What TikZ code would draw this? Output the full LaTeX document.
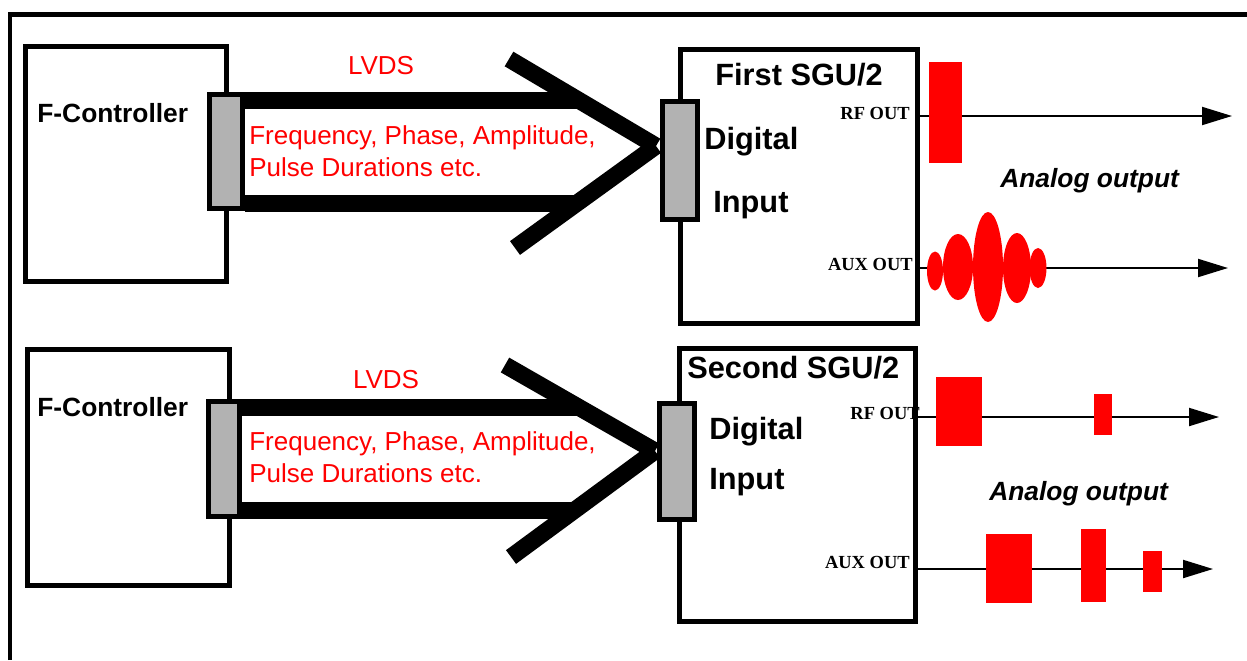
\documentclass[tikz,border=0pt]{standalone}
\usepackage{fontspec}
\setmainfont{Liberation Serif}
\setsansfont{Liberation Sans}
\usetikzlibrary{arrows.meta,positioning}
\tikzset{
  unit/.style={draw,line width=0.1cm,inner sep=0pt},
  port/.style={draw,line width=0.1cm,fill=black!30,inner sep=0pt},
  bus/.style={line width=0.34cm},
  sig/.style={line width=0.04cm,-{Triangle[length=0.6cm,width=0.36cm]}},
  pulse/.style={fill=red},
  big/.style={font=\sffamily\bfseries\fontsize{17.5}{21}\selectfont,anchor=west,inner sep=0pt},
  ctl/.style={font=\sffamily\bfseries\fontsize{15}{18}\selectfont,anchor=west,inner sep=0pt},
  redtxt/.style={text=red,font=\sffamily\fontsize{14.8}{18.2}\selectfont,inner sep=0pt},
  outlbl/.style={font=\bfseries\fontsize{10.5}{12}\selectfont,anchor=east,inner sep=0pt},
  note/.style={font=\sffamily\bfseries\itshape\fontsize{15}{18}\selectfont,anchor=west,inner sep=0pt}
}
\begin{document}
\begin{tikzpicture}[x=0.02cm,y=-0.02cm]
\useasboundingbox (0,0) rectangle (1247,660);
\draw[line width=0.1cm] (10,660) -- (10,14.5) -- (1250,14.5);

% first channel
\node[unit,minimum width=4.02cm,minimum height=4.7cm] (fc1) at (126,164) {};
\node[ctl] (fc1txt) at (37,113) {F-Controller};
\node[port,minimum width=0.66cm,minimum height=2.28cm] (p1) at (226,151.5) {};
\node[unit,minimum width=4.74cm,minimum height=5.48cm] (sgu1) at (799,186.5) {};
\coordinate (tip1) at (656,146);
\draw[bus] (p1.east |- 0,100.5) -- (580,100.5);
\draw[bus] (p1.east |- 0,203.5) -- (578,203.5);
\draw[bus] (509,59) -- (tip1);
\draw[bus] (515,248) -- (tip1);
\node[port,minimum width=0.7cm,minimum height=2.36cm] (q1) at (680,160.5) {};
\node[redtxt] (lvds1) at (381,66) {LVDS};
\node[redtxt,anchor=west,align=left] (data1) at (249,151) {Frequency, Phase, Amplitude,\\Pulse Durations etc.};
\node[big] (name1) at (715,75) {First SGU/2};
\node[big] (dig1) at (704,142) {Digital};
\node[big] (inp1) at (713,205) {Input};

\coordinate (rfend1) at (1232,116);
\coordinate (auxend1) at (1228,268);
\draw[sig] (sgu1.east |- rfend1) -- (rfend1);
\draw[sig] (sgu1.east |- auxend1) -- (auxend1);
\node[outlbl] (rf1) at (910,113) {RF OUT};
\node[outlbl] (aux1) at (913,264) {AUX OUT};
\fill[pulse] (929,62) rectangle (962,163);
\foreach \cx/\cy/\rx/\ry in {935/271/8/19.5, 958/267/15/33, 988/267/15/55, 1017/268/14/35, 1038/268/8.5/20}
  \fill[pulse] (\cx,\cy) ellipse [x radius=\rx, y radius=\ry];
\node[note] (ana1) at (1000,181) {Analog output};

% second channel
\node[unit,minimum width=4.04cm,minimum height=4.72cm] (fc2) at (128.5,467.5) {};
\node[ctl] (fc2txt) at (37,407) {F-Controller};
\node[port,minimum width=0.62cm,minimum height=2.3cm] (p2) at (224,459) {};
\node[unit,minimum width=4.72cm,minimum height=5.46cm] (sgu2) at (797.5,485) {};
\coordinate (tip2) at (655,451);
\draw[bus] (p2.east |- 0,407.5) -- (580,407.5);
\draw[bus] (p2.east |- 0,510.5) -- (574,510.5);
\draw[bus] (505,365) -- (tip2);
\draw[bus] (511,557) -- (tip2);
\node[port,minimum width=0.7cm,minimum height=2.32cm] (q2) at (677,461.5) {};
\node[redtxt] (lvds2) at (386,380) {LVDS};
\node[redtxt,anchor=west,align=left] (data2) at (249,457.5) {Frequency, Phase, Amplitude,\\Pulse Durations etc.};
\node[big] (name2) at (687,368) {Second SGU/2};
\node[big] (dig2) at (709,432) {Digital};
\node[big] (inp2) at (709,482) {Input};

\coordinate (rfend2) at (1219,417);
\coordinate (auxend2) at (1213,569);
\draw[sig] (sgu2.east |- rfend2) -- (rfend2);
\draw[sig] (sgu2.east |- auxend2) -- (auxend2);
\node[outlbl] (rf2) at (920,413) {RF OUT};
\node[outlbl] (aux2) at (910,562) {AUX OUT};
\fill[pulse] (936,377) rectangle (982,446);
\fill[pulse] (1094,394) rectangle (1112,435);
\fill[pulse] (986,534) rectangle (1032,603);
\fill[pulse] (1081,529) rectangle (1106,602);
\fill[pulse] (1143,551) rectangle (1162,592);
\node[note] (ana2) at (989,494) {Analog output};
\end{tikzpicture}
\end{document}
